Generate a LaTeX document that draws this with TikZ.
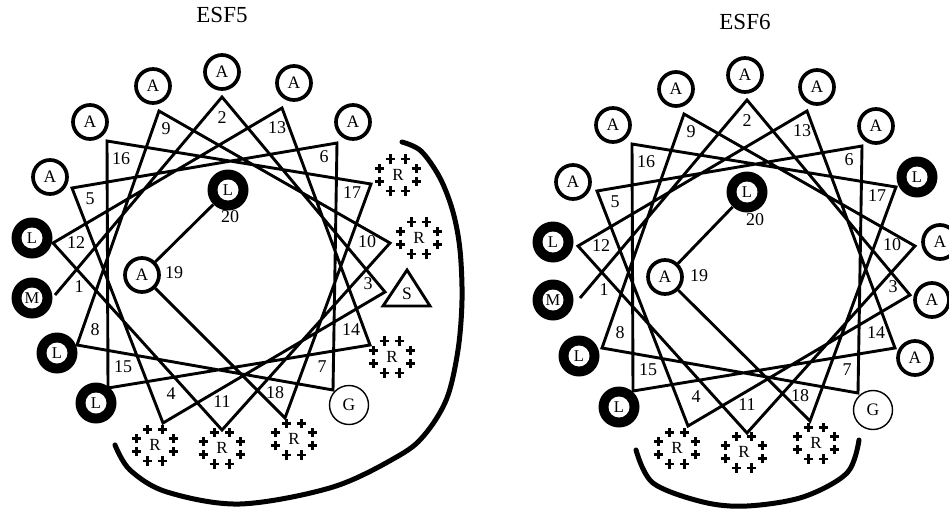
\documentclass[tikz,border=0pt]{standalone}
\usepackage{fontspec}
\setmainfont{Liberation Serif}
\usetikzlibrary{calc}
\pgfdeclarelayer{back}
\pgfdeclarelayer{lines}
\pgfsetlayers{back,lines,main}

\tikzset{
  wheel/.style={line width=2.9pt, line join=miter},
  num/.style={inner sep=0pt, font=\fontsize{18}{18}\selectfont},
  ttl/.style={inner sep=0pt, font=\fontsize{23}{23}\selectfont},
  res/.style={circle, draw, line width=3.7pt, fill=white, minimum size=34pt,
    inner sep=0pt, font=\fontsize{17.5}{17.5}\selectfont},
  hyd/.style={circle, fill=black, minimum size=41pt, inner sep=0pt,
    font=\fontsize{16.5}{16.5}\selectfont,
    path picture={\fill[white] (path picture bounding box.center) circle (10.5pt);}},
  gly/.style={circle, draw, line width=1.4pt, fill=white, minimum size=39pt,
    inner sep=0pt, font=\fontsize{17.5}{17.5}\selectfont},
  arg/.style={inner sep=0pt, font=\fontsize{17}{17}\selectfont},
  ser/.style={inner sep=0pt, font=\fontsize{17.5}{17.5}\selectfont},
  band/.style={line width=5pt, line cap=round},
  plussign/.pic={\draw[line width=2.4pt] (-4.8pt,0) -- (4.8pt,0) (0,-4.8pt) -- (0,4.8pt);}
}

% vertices and position numbers of one helical wheel (prefix #1)
\newcommand\wheelframe[1]{%
  \foreach \i/\px/\py in {1/55/295, 2/222/97, 3/385/292, 4/163/423, 5/72/188,
      6/337/143, 7/333/390, 8/77/345, 9/159/111, 10/390/243, 11/222/430,
      12/53/243, 13/282/108, 14/370/345, 15/108/388, 16/107/141,
      17/371/184, 18/285/418}
    \coordinate (#1v\i) at (\px,\py);
  \foreach \i/\px/\py in {1/79/287, 2/222/118, 3/368/284, 4/171/394, 5/90/199,
      6/324/157, 7/322/367, 8/95/330, 9/166/129, 10/367/242, 11/222/402,
      12/76/243, 13/277/128, 14/351/330, 15/123/367, 16/121/159,
      17/352/193, 18/275/393, 19/174/273, 20/230/217}
    \node[num] (#1l\i) at (\px,\py) {\i};
}

\begin{document}
\begin{tikzpicture}[x=1pt,y=-1pt]
\useasboundingbox (0,0) rectangle (949,508);
\begin{pgfonlayer}{back}
  \fill[white] (0,0) rectangle (949,508);
\end{pgfonlayer}

% titles
\node[ttl] (t5) at (222,15) {ESF5};
\node[ttl] (t6) at (745,22) {ESF6};

% wheel skeletons
\wheelframe{a}
\begin{scope}[shift={(525,3)}]
  \wheelframe{b}
\end{scope}

% ESF5 residues
\node[res] (an2)  at (222,72)  {A};
\node[res] (an13) at (294,83)  {A};
\node[res] (an6)  at (353,122) {A};
\node[arg] (an17) at (398,175) {R};
\node[arg] (an10) at (419,238) {R};
\node[ser] (an3)  at (407,294) {S};
\draw[wheel] ($(an3)+(0,-24)$) -- ($(an3)+(23,12)$) -- ($(an3)+(-24,12)$) -- cycle;
\node[arg] (an14) at (392,357) {R};
\node[gly] (an7)  at (349,405) {G};
\node[arg] (an18) at (294,439) {R};
\node[arg] (an11) at (222,448) {R};
\node[arg] (an4)  at (155,445) {R};
\node[hyd] (an15) at (96,403)  {L};
\node[hyd] (an8)  at (57,353)  {L};
\node[hyd] (an1)  at (32,298)  {M};
\node[hyd] (an12) at (32,238)  {L};
\node[res] (an5)  at (50,177)  {A};
\node[res] (an16) at (90,122)  {A};
\node[res] (an9)  at (153,86)  {A};
\node[res] (an19) at (142,275) {A};
\node[hyd] (an20) at (228,190) {L};

% ESF6 residues
\node[res] (bn2)  at (745,75)  {A};
\node[res] (bn13) at (817,87)  {A};
\node[res] (bn6)  at (876,126) {A};
\node[hyd] (bn17) at (917,177) {L};
\node[res] (bn10) at (940,242) {A};
\node[res] (bn3)  at (932,300) {A};
\node[res] (bn14) at (915,358) {A};
\node[gly] (bn7)  at (873,410) {G};
\node[arg] (bn18) at (816,443) {R};
\node[arg] (bn11) at (744,452) {R};
\node[arg] (bn4)  at (677,448) {R};
\node[hyd] (bn15) at (619,407) {L};
\node[hyd] (bn8)  at (579,356) {L};
\node[hyd] (bn1)  at (553,300) {M};
\node[hyd] (bn12) at (553,242) {L};
\node[res] (bn5)  at (573,182) {A};
\node[res] (bn16) at (613,125) {A};
\node[res] (bn9)  at (676,89)  {A};
\node[res] (bn19) at (665,277) {A};
\node[hyd] (bn20) at (747,192) {L};

% ring of plus charges round each arginine
\foreach \r in {an17,an10,an14,an18,an11,an4,bn18,bn11,bn4}
  \foreach \t in {22.5,67.5,...,337.5}
    \pic at ($(\r)+(\t:20pt and 17pt)$) {plussign};

% helix backbone 1 -> 19, then 19 -> 20
\begin{pgfonlayer}{lines}
  \foreach \w in {a,b} {
    \draw[wheel] (\w v1) \foreach \i in {2,...,18} { -- (\w v\i) } -- (\w n19);
    \draw[wheel] (\w n19) -- (\w n20);
  }
\end{pgfonlayer}

% cationic faces
\draw[band] plot[smooth, tension=0.55] coordinates {
  (402,142) (421,151) (440,178) (453,212) (460,250) (462,300) (458,350)
  (447,398) (426,433) (400,455) (333,487) (240,504) (167,492) (130,470) (115,445)};
\draw[band] plot[smooth, tension=0.55] coordinates {
  (636,450) (653,483) (703,502) (747,506) (803,497) (847,473) (859,440)};
\end{tikzpicture}
\end{document}
